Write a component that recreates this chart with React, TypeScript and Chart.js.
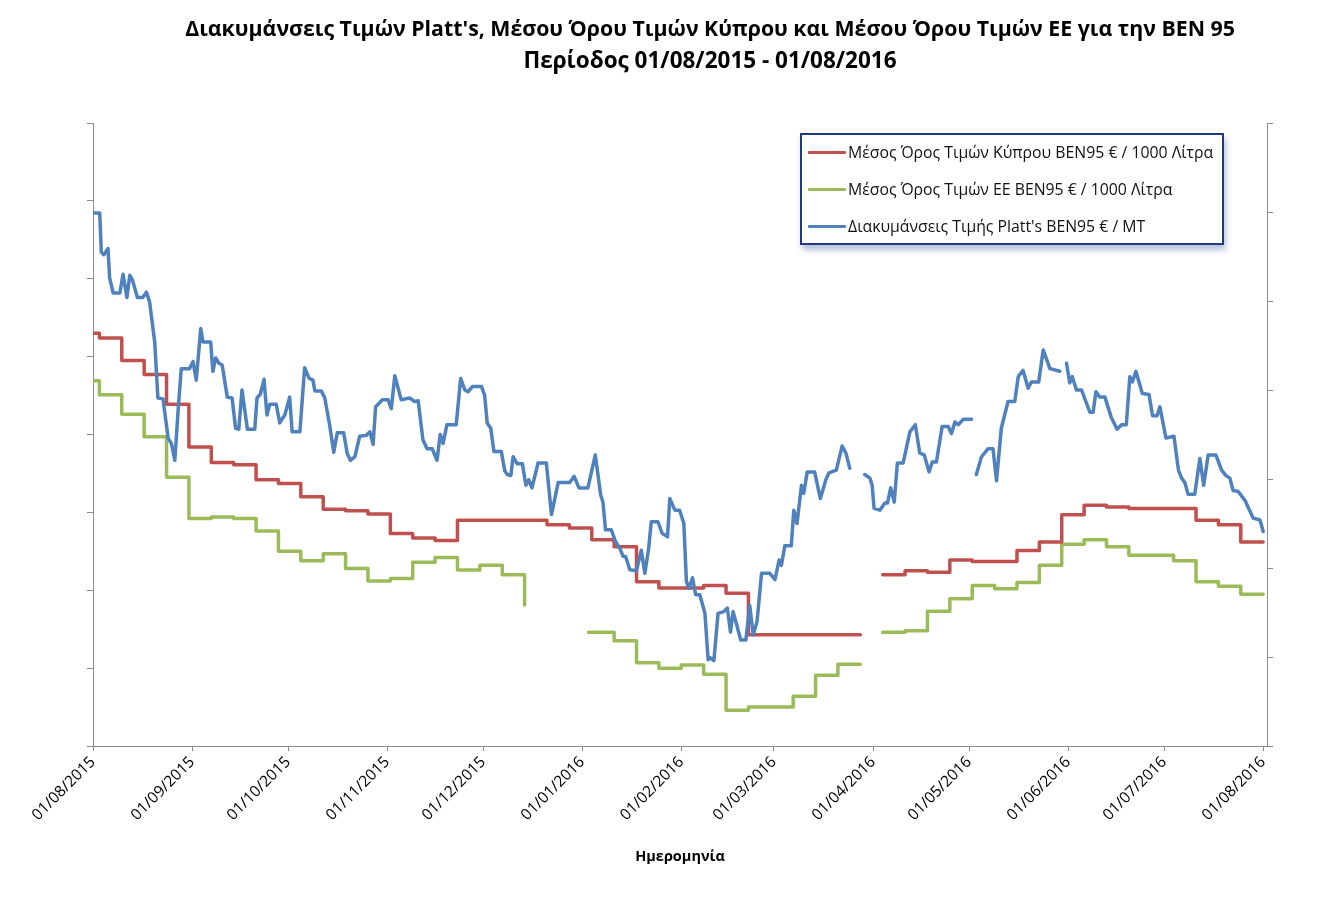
import React, { useEffect, useRef } from 'react';
import { Chart, registerables } from 'chart.js';

Chart.register(...registerables);

// ---- Data ----
const titleLines = [
  "Διακυμάνσεις Τιμών Platt's, Μέσου Όρου Τιμών Κύπρου και Μέσου Όρου Τιμών ΕΕ για την BEN 95",
  'Περίοδος 01/08/2015 - 01/08/2016',
];
const xAxisTitle = 'Ημερομηνία';
const legendLabels = [
  'Μέσος Όρος Τιμών Κύπρου BEN95 € / 1000 Λίτρα',
  'Μέσος Όρος Τιμών ΕΕ BEN95 € / 1000 Λίτρα',
  "Διακυμάνσεις Τιμής Platt's BEN95 € / MT",
];

// day offsets from 01/08/2015 of the month ticks
const tickDays = [0, 31, 61, 92, 122, 153, 184, 213, 244, 274, 305, 335, 366];
const tickLabels = [
  '01/08/2015', '01/09/2015', '01/10/2015', '01/11/2015', '01/12/2015', '01/01/2016',
  '01/02/2016', '01/03/2016', '01/04/2016', '01/05/2016', '01/06/2016', '01/07/2016', '01/08/2016',
];

// Cyprus average (€/1000 L) – weekly values: [day, value]
const cyprusSteps: [number, number | null][] = [
  [0, 1430], [2, 1424], [9, 1395], [16, 1377], [23, 1339], [30, 1284], [37, 1264], [44, 1261],
  [51, 1242], [58, 1237], [65, 1220], [72, 1204], [79, 1202], [86, 1198], [93, 1173], [100, 1167],
  [107, 1164], [114, 1190], [142, 1184], [149, 1180], [156, 1165], [163, 1156], [170, 1111],
  [177, 1103], [191, 1106], [198, 1096], [205, 1043], [240, 1043], [243, null], [247, 1120],
  [254, 1125], [261, 1123], [268, 1139], [275, 1137], [289, 1151], [296, 1162], [303, 1197],
  [310, 1209], [317, 1207], [324, 1205], [345, 1190], [352, 1184], [359, 1162], [366, 1162],
];

// EU average (€/1000 L) – weekly values: [day, value]
const euSteps: [number, number | null][] = [
  [0, 1369], [2, 1351], [9, 1326], [16, 1297], [23, 1245], [30, 1192], [37, 1194], [44, 1192],
  [51, 1176], [58, 1150], [65, 1138], [72, 1147], [79, 1128], [86, 1112], [93, 1115], [100, 1136],
  [107, 1142], [114, 1126], [121, 1132], [128, 1120], [135, 1081], [145, null], [155, 1046],
  [163, 1035], [170, 1007], [177, 1000], [184, 1004], [191, 992], [198, 946], [205, 950],
  [219, 964], [226, 991], [233, 1005], [240, 1005], [243, null], [247, 1046], [254, 1048],
  [261, 1073], [268, 1089], [275, 1106], [282, 1102], [289, 1110], [296, 1132], [303, 1159],
  [310, 1165], [317, 1156], [324, 1145], [338, 1138], [345, 1111], [352, 1105], [359, 1095],
  [366, 1095],
];

// Platt's quotation (€/MT): [day, value]
const plattsSeries: [number, number | null][] = [
  [0, 799], [2.1, 799], [2.6, 755], [3.4, 752], [4.7, 759], [5.2, 726], [6.3, 709], [8.4, 709],
  [9.4, 730], [10.6, 704], [11.5, 729], [12.3, 724], [13.9, 704], [15.6, 704], [16.7, 710],
  [17.7, 699], [19.3, 654], [20.3, 591], [21.9, 590], [23.5, 546], [24.5, 540], [25.6, 521],
  [26.6, 576], [27.6, 624], [30.2, 624], [31.3, 632], [32.3, 611], [33.7, 669], [34.4, 654],
  [36.8, 654], [37.5, 621], [38.4, 636], [39.4, 630], [40.4, 628], [42.0, 592], [43.5, 591],
  [44.6, 557], [45.6, 556], [46.6, 600], [48.3, 556], [50.6, 556], [51.3, 591], [52.3, 595],
  [53.5, 612], [54.4, 572], [55.3, 584], [57.3, 584], [58.4, 563], [60.0, 572], [61.5, 592],
  [62.3, 553], [64.7, 553], [66.2, 625], [67.6, 613], [68.8, 611], [69.4, 599], [71.4, 599],
  [72.5, 591], [74.0, 561], [75.3, 530], [76.4, 552], [78.4, 552], [79.5, 529], [80.5, 521],
  [81.9, 525], [83.4, 548], [85.5, 549], [86.6, 553], [87.6, 539], [88.4, 581], [90.5, 589],
  [92.3, 589], [93.3, 579], [94.4, 616], [96.4, 589], [99.1, 591], [100.6, 587], [101.7, 588],
  [103.2, 544], [104.5, 534], [106.1, 534], [107.6, 521], [108.6, 550], [109.5, 540], [110.7, 561],
  [113.6, 561], [115.0, 613], [116.3, 600], [117.3, 598], [118.7, 604], [121.5, 604], [122.5, 594],
  [123.3, 563], [124.4, 557], [125.4, 531], [127.7, 531], [128.8, 509], [129.6, 505], [130.7, 504],
  [131.4, 525], [132.7, 517], [134.3, 517], [135.4, 493], [136.3, 499], [137.3, 490], [139.2, 518],
  [141.8, 518], [143.4, 460], [145.5, 496], [149.1, 496], [150.5, 503], [152.0, 490], [154.8, 490],
  [157.1, 527], [158.8, 482], [159.5, 474], [160.3, 443], [162.1, 443], [163.4, 430], [164.8, 422],
  [165.8, 413], [166.6, 413], [167.9, 398], [170.0, 397], [171.5, 420], [172.6, 394], [173.8, 422],
  [174.6, 452], [176.7, 452], [178.0, 439], [179.7, 435], [180.4, 478], [182.0, 465], [183.5, 465],
  [184.8, 450], [185.6, 385], [186.4, 377], [187.5, 389], [188.5, 370], [189.8, 370], [191.4, 349],
  [192.4, 297], [193.1, 299], [194.2, 296], [195.5, 349], [197.3, 351], [198.4, 355], [199.4, 328],
  [200.2, 351], [201.2, 338], [202.6, 319], [204.2, 319], [205.4, 358], [206.5, 325], [207.7, 340],
  [209.1, 394], [211.7, 394], [213.3, 387], [214.6, 409], [215.3, 403], [216.4, 425], [218.4, 425],
  [219.2, 465], [220.2, 450], [221.6, 493], [222.3, 484], [223.4, 508], [225.7, 508], [227.5, 478],
  [229.2, 499], [230.2, 507], [232.5, 510], [234.3, 537], [235.5, 529], [236.7, 512], [239, null],
  [241.4, 505], [243.0, 501], [243.7, 493], [244.3, 467], [246.1, 465], [247.7, 473], [248.5, 473],
  [249.5, 490], [250.6, 474], [251.6, 518], [253.4, 518], [255.5, 553], [257.2, 561], [258.6, 529],
  [260.0, 527], [261.5, 508], [262.5, 519], [263.8, 519], [265.6, 559], [267.5, 559], [268.5, 551],
  [269.6, 564], [270.6, 561], [272.2, 567], [274.8, 567], [275.5, null], [276.3, 505], [277.9, 525],
  [280.0, 534], [281.5, 534], [282.6, 498], [284.1, 557], [286.2, 587], [288.3, 587], [289.4, 615],
  [290.9, 622], [292.5, 602], [293.5, 609], [295.8, 609], [297.2, 645], [299.3, 624], [302.4, 621],
  [303.5, null], [304.5, 630], [305.5, 608], [306.3, 615], [307.6, 600], [309.2, 600], [311.8, 575],
  [312.8, 575], [313.7, 598], [314.9, 592], [316.5, 592], [318.5, 569], [320.3, 556], [321.7, 561],
  [323.2, 561], [324.3, 615], [325.1, 609], [326.2, 621], [328.2, 596], [330.3, 595], [331.4, 571],
  [332.8, 571], [333.7, 581], [335.6, 546], [338.1, 548], [339.5, 510], [340.5, 501], [341.5, 496],
  [342.5, 483], [344.6, 483], [346.2, 523], [347.4, 493], [348.8, 527], [351.2, 527], [353.0, 510],
  [354.3, 504], [355.6, 501], [356.6, 487], [358.2, 486], [360.3, 476], [362.9, 456], [365.0, 454],
  [366.0, 441],
];

const seriesColors = ['#C0504D', '#9BBB59', '#4F81BD'];
const axisGray = '#8c8c8c';
const FONT = '"Open Sans", "Noto Sans", sans-serif';
const titleSizes = [21.3, 22.5];

const toPoints = (s: [number, number | null][]) => s.map(([x, y]) => ({ x, y }));

export default function App() {
  const canvasRef = useRef<HTMLCanvasElement | null>(null);

  useEffect(() => {
    if (!canvasRef.current) return;
    const chart = new Chart(canvasRef.current, {
      type: 'line',
      data: {
        datasets: [
          {
            label: legendLabels[0],
            data: toPoints(cyprusSteps) as any,
            borderColor: seriesColors[0],
            stepped: 'before',
            yAxisID: 'y',
            order: 1,
          },
          {
            label: legendLabels[1],
            data: toPoints(euSteps) as any,
            borderColor: seriesColors[1],
            stepped: 'before',
            yAxisID: 'y',
            order: 2,
          },
          {
            label: legendLabels[2],
            data: toPoints(plattsSeries) as any,
            borderColor: seriesColors[2],
            yAxisID: 'y1',
            order: 0,
          },
        ],
      },
      options: {
        animation: false,
        responsive: false,
        spanGaps: false,
        elements: {
          point: { radius: 0, hoverRadius: 0 },
          line: { borderWidth: 3.5, borderCapStyle: 'round', borderJoinStyle: 'round', tension: 0, fill: false },
        },
        layout: { padding: { left: 73, right: 38, top: 123, bottom: 37 } },
        plugins: {
          legend: { display: false },
          title: { display: false },
          tooltip: { enabled: false },
        },
        scales: {
          x: {
            type: 'linear',
            min: 0,
            max: 367.2,
            afterBuildTicks: (scale: any) => {
              scale.ticks = tickDays.map((v) => ({ value: v }));
            },
            afterFit: (scale: any) => {
              scale.height = 120;
            },
            ticks: {
              autoSkip: false,
              minRotation: 45,
              maxRotation: 45,
              padding: 2,
              color: '#000',
              font: { family: FONT, size: 15.5 },
              callback: (_v: any, i: number) => tickLabels[i],
            },
            grid: { drawOnChartArea: false, drawTicks: true, tickLength: 5, color: axisGray, lineWidth: 1 },
            border: { display: true, color: axisGray, width: 1 },
            title: {
              display: true,
              text: xAxisTitle,
              color: '#000',
              font: { family: FONT, size: 14.5, weight: 'bold' },
              padding: 0,
            },
          },
          y: {
            type: 'linear',
            position: 'left',
            min: 900,
            max: 1700,
            ticks: { stepSize: 100, display: false },
            grid: { drawOnChartArea: false, drawTicks: true, tickLength: 6, color: axisGray, lineWidth: 1 },
            border: { display: true, color: axisGray, width: 1 },
            afterFit: (scale: any) => {
              scale.width = 20;
            },
          },
          y1: {
            type: 'linear',
            position: 'right',
            min: 200,
            max: 900,
            ticks: { stepSize: 100, display: false },
            grid: { drawOnChartArea: false, drawTicks: true, tickLength: 6, color: axisGray, lineWidth: 1 },
            border: { display: true, color: axisGray, width: 1 },
            afterFit: (scale: any) => {
              scale.width = 20;
            },
          },
        },
      } as any,
    });
    return () => chart.destroy();
  }, []);

  const rowCenters = [17, 54, 91];

  return (
    <div
      style={{
        position: 'absolute',
        left: 0,
        top: 0,
        width: 1325,
        height: 903,
        background: '#fff',
        overflow: 'hidden',
        fontFamily: FONT,
      }}
    >
      <canvas ref={canvasRef} width={1325} height={903} style={{ display: 'block', position: 'absolute', left: 0, top: 0 }} />
      {titleLines.map((t, i) => (
        <div
          key={i}
          style={{
            position: 'absolute',
            left: 710,
            top: 12 + i * 32,
            transform: 'translateX(-50%)',
            whiteSpace: 'nowrap',
            fontSize: titleSizes[i],
            lineHeight: '32px',
            fontWeight: 700,
            color: '#000',
          }}
        >
          {t}
        </div>
      ))}
      <div
        style={{
          position: 'absolute',
          left: 800,
          top: 133,
          width: 424,
          height: 112,
          boxSizing: 'border-box',
          border: '2px solid #22397a',
          background: '#fff',
          boxShadow: '2px 5px 6px rgba(90,120,175,0.45)',
        }}
      >
        {legendLabels.map((t, i) => (
          <div
            key={i}
            style={{
              position: 'absolute',
              left: 6,
              top: rowCenters[i] - 11,
              height: 22,
              display: 'flex',
              alignItems: 'center',
              whiteSpace: 'nowrap',
            }}
          >
            <span style={{ display: 'inline-block', width: 38, height: 3, background: seriesColors[i], marginRight: 2, borderRadius: 1 }} />
            <span style={{ fontSize: 15.8, color: '#111' }}>{t}</span>
          </div>
        ))}
      </div>
    </div>
  );
}
